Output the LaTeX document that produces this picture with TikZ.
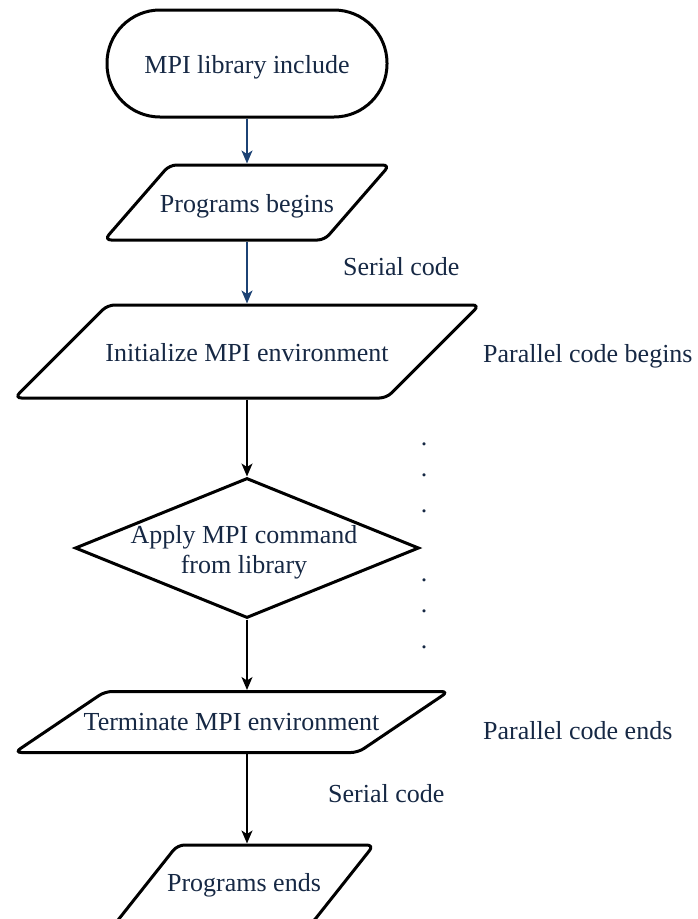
\documentclass[tikz,border=0pt]{standalone}
\usepackage{fontspec}
\setmainfont{Liberation Serif}
\usetikzlibrary{arrows.meta}
\usetikzlibrary{shapes.geometric}
\definecolor{inknavy}{RGB}{22,40,68}
\definecolor{flowblue}{RGB}{28,66,116}

\begin{document}
\begin{tikzpicture}[x=1pt, y=-1pt,
	every node/.style={font=\fontsize{26}{30}\selectfont, text=inknavy},
	startstop/.style={rectangle, draw=black, line width=3pt, rounded corners=53pt, minimum width=280pt, minimum height=107pt, text height=19pt, text depth=0pt},
	io/.style 2 args={trapezium, draw=black, line width=3pt, rounded corners=7pt, trapezium left angle=#1, trapezium right angle=#2, inner xsep=0pt, inner ysep=0pt},
	decision/.style={diamond, draw=black, line width=3pt, minimum width=344pt, minimum height=140pt, inner sep=0pt},
	flow/.style={-{Stealth[length=13pt,width=11pt,inset=3.5pt]}, line width=1.5pt},
	note/.style={anchor=base west, inner sep=0pt}]
\useasboundingbox (0,0) rectangle (698,919);
\clip (0,0) rectangle (698,919);

\node[startstop] (incl) at (247,63.5) {MPI library include};
\node[io={49}{131}, text height=47.5pt, text depth=27.5pt] (pbeg) at (247,202.5) {\makebox[155pt]{Programs begins}};
\node[io={45}{135}, text height=56.5pt, text depth=36.5pt] (init) at (247,351.5) {\makebox[279pt]{Initialize MPI environment}};
\node[decision, label={[xshift=-3pt, yshift=-4pt, align=center]center:Apply MPI command\\from library}] (apply) at (247,548) {};
\node[io={34}{146}, text height=38.5pt, text depth=22.5pt] (term) at (231.5,722) {\makebox[253pt]{Terminate MPI environment}};
\node[io={51.6}{128.4}, text height=46.5pt, text depth=33.5pt] (pend) at (244,885) {\makebox[133pt]{Programs ends}};

% side notes
\node[note] (serA) at (343,275) {Serial code};
\node[note] (parA) at (483,362) {Parallel code begins};
\node[note] (parB) at (483,739) {Parallel code ends};
\node[note] (serB) at (328,802) {Serial code};
\foreach \y in {444,475,511,580,611,647}
	\node[anchor=base, inner sep=0pt] (dot\y) at (424,\y+1.7) {.};

\draw[flow, draw=flowblue, fill=flowblue] (incl.south) -- (pbeg.north);
\draw[flow, draw=flowblue, fill=flowblue] (pbeg.south) -- (init.north);
\draw[flow] (init.south) -- (apply.north);
\draw[flow] (apply.south) -- (apply.south |- term.north);
\draw[flow] (apply.south |- term.south) -- (apply.south |- pend.north);
\end{tikzpicture}
\end{document}
